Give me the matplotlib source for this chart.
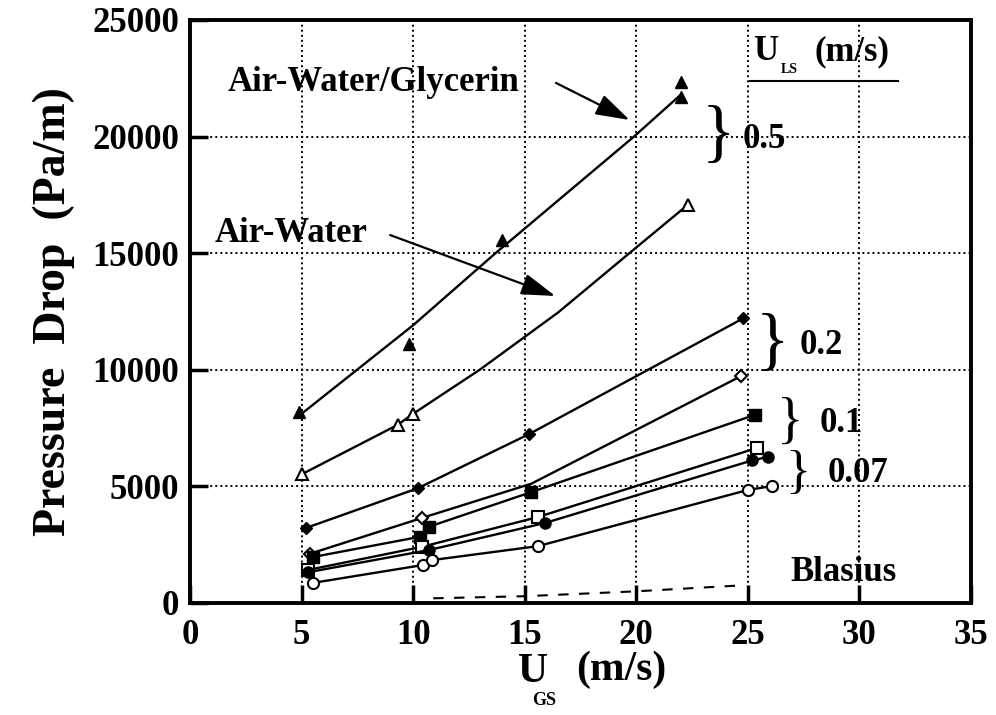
import numpy as np
import matplotlib
matplotlib.use('Agg')
import matplotlib.pyplot as plt

plt.rcParams['font.family'] = ['Liberation Serif', 'DejaVu Serif']
plt.rcParams['font.weight'] = 'bold'

# U_LS = 0.5, air-water/glycerin (filled triangles) + its fitted curve
glyc_x = [4.9, 9.8, 14.0, 22.0, 22.0]
glyc_y = [8170, 11100, 15560, 22340, 21700]
glyc_fit_x = [5.0, 10.0, 13.7, 19.9, 22.0]
glyc_fit_y = [8100, 11900, 15000, 20000, 21800]

# U_LS = 0.5, air-water (open triangles) + fitted curve
aw5_x = [5.0, 9.3, 10.0, 22.3]
aw5_y = [5500, 7620, 8100, 17060]
aw5_fit_x = [5.0, 9.3, 10.0, 13.0, 16.5, 19.7, 22.3]
aw5_fit_y = [5500, 7620, 8100, 10000, 12450, 15000, 17060]

# U_LS = 0.2
dia_f_x = [5.2, 10.2, 15.2, 24.8]
dia_f_y = [3200, 4900, 7230, 12200]
dia_o_x = [5.4, 10.4, 15.3, 24.7]
dia_o_y = [2100, 3630, 5100, 9720]

# U_LS = 0.1
sq_f_x = [5.5, 10.3, 10.7, 15.3, 25.3]
sq_f_y = [1950, 2820, 3250, 4740, 8050]
sq_o_x = [5.3, 10.4, 15.6, 25.4]
sq_o_y = [1400, 2390, 3670, 6630]

# U_LS = 0.07
ci_f_x = [5.3, 10.7, 15.9, 25.2, 25.9]
ci_f_y = [1300, 2250, 3410, 6100, 6250]
ci_o_x = [5.5, 10.45, 10.85, 15.6, 25.0, 26.1]
ci_o_y = [840, 1610, 1820, 2420, 4830, 5000]

# Blasius
bl_x = [10.9, 15.0, 20.0, 24.8]
bl_y = [180, 270, 480, 740]

xticks = [0, 5, 10, 15, 20, 25, 30, 35]
yticks = [0, 5000, 10000, 15000, 20000, 25000]

W, H = 996, 715


def fx(px):
    return px / W


def fy(py):
    return 1 - py / H


fig = plt.figure(figsize=(9.96, 7.15), dpi=100)
ax = fig.add_axes([fx(190), fy(602.5), (971 - 190) / W, (602.5 - 20) / H])

lw = 1.7
ax.plot(glyc_fit_x, glyc_fit_y, '-', color='k', lw=lw)
ax.plot(glyc_x, glyc_y, '^', color='k', ms=9, ls='none')
ax.plot(aw5_fit_x, aw5_fit_y, '-', color='k', lw=lw)
ax.plot(aw5_x, aw5_y, '^', mfc='white', mec='k', mew=1.5, ms=9, ls='none')

ax.plot(dia_f_x, dia_f_y, '-D', color='k', lw=lw, ms=6.5)
ax.plot(dia_o_x, dia_o_y, '-D', color='k', lw=lw, ms=6.5, mfc='white', mew=1.5,
        markevery=[0, 1, 3])
ax.plot(sq_f_x, sq_f_y, '-s', color='k', lw=lw, ms=9)
ax.plot(sq_o_x, sq_o_y, '-s', color='k', lw=lw, ms=8.5, mfc='white', mew=1.5)
ax.plot(ci_f_x, ci_f_y, '-o', color='k', lw=lw, ms=8)
ax.plot(ci_o_x, ci_o_y, '-o', color='k', lw=lw, ms=8, mfc='white', mew=1.5)

ax.plot(bl_x, bl_y, color='k', lw=1.5, ls=(0, (5, 5)))

ax.set_xlim(0, 35)
ax.set_ylim(0, 25000)
ax.set_xticks(xticks)
ax.set_yticks(yticks)
ax.grid(True, color='k', ls=(0, (1.0, 1.6)), lw=1.4)
ax.tick_params(direction='in', length=13, width=2.5, labelsize=25,
               top=False, right=False)
ax.tick_params(axis='x', pad=12)
ax.tick_params(axis='y', pad=8)
for lab in ax.get_xticklabels() + ax.get_yticklabels():
    lab.set_fontweight('bold')
for s in ax.spines.values():
    s.set_linewidth(2.8)

# axis labels
ax.set_ylabel('Pressure  Drop  (Pa/m)', fontsize=33, fontweight='bold', labelpad=12)
fig.text(fx(518), fy(682), 'U', fontsize=30, ha='left', va='baseline')
fig.text(fx(532), fy(705), 'GS', fontsize=13, ha='left', va='baseline')
fig.text(fx(576), fy(680), '(m/s)', fontsize=30, ha='left', va='baseline')

# U_LS header
fig.text(fx(753), fy(60), 'U', fontsize=25, ha='left', va='baseline')
fig.text(fx(781), fy(73), 'LS', fontsize=10, ha='left', va='baseline')
fig.text(fx(815), fy(60), '(m/s)', fontsize=25, ha='left', va='baseline')
fig.add_artist(plt.Line2D([fx(750), fx(898)], [fy(81), fy(81)], color='k', lw=1.5))


# groups
def brace(px, py, size):
    fig.text(fx(px), fy(py), '}', fontsize=size, fontweight='normal',
             ha='center', va='center')


brace(718, 137, 50)
fig.text(fx(743), fy(140), '0.5', fontsize=25, ha='left', va='center')
brace(772, 345, 50)
fig.text(fx(800), fy(345), '0.2', fontsize=25, ha='left', va='center')
brace(790, 424, 40)
fig.text(fx(820), fy(424), '0.1', fontsize=25, ha='left', va='center')
brace(798, 474, 38)
fig.text(fx(828), fy(474), '0.07', fontsize=25, ha='left', va='center')
ax.text(26.9, 560, 'Blasius', fontsize=25, ha='left', va='bottom')

ax.text(1.7, 21950, 'Air-Water/Glycerin', fontsize=25, ha='left', va='baseline')
ax.text(1.12, 15470, 'Air-Water', fontsize=25, ha='left', va='baseline')
arrow = dict(arrowstyle='-|>,head_length=0.7,head_width=0.22', color='k', lw=1.6,
             mutation_scale=30, shrinkA=0, shrinkB=0)
ax.annotate('', xy=(19.7, 20710), xytext=(16.4, 22300), arrowprops=arrow)
ax.annotate('', xy=(16.37, 13155), xytext=(8.97, 15770), arrowprops=arrow)

plt.savefig('out.png', dpi=100)
